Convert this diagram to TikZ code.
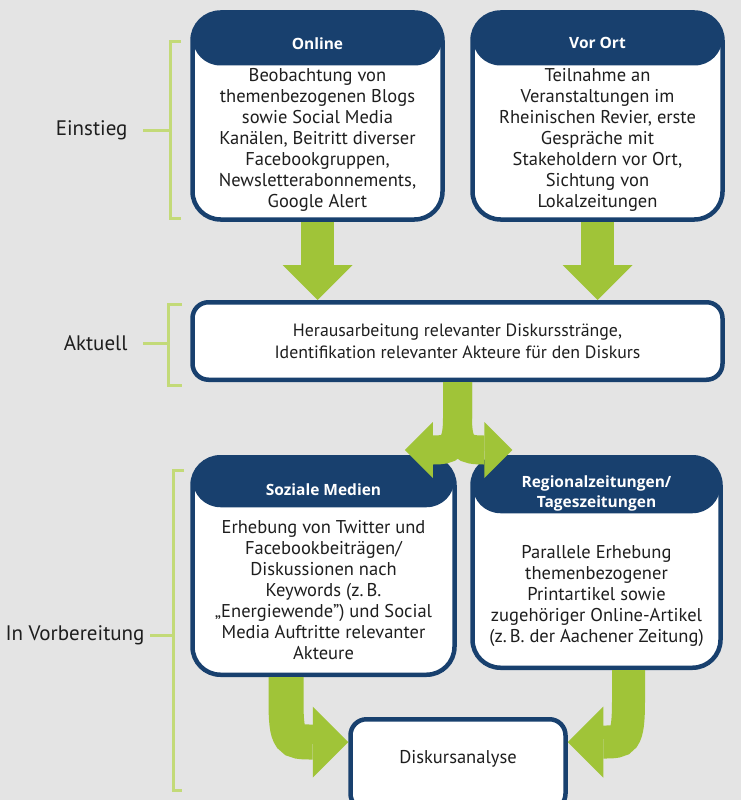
\documentclass[tikz,border=0pt]{standalone}
\usepackage{fontspec}
\setmainfont{PT Sans}
\newfontfamily\headfont{Open Sans}
\usetikzlibrary{arrows.meta}

\definecolor{navy}{RGB}{24,64,110}
\definecolor{leaf}{RGB}{160,196,56}
\definecolor{twig}{RGB}{195,218,120}
\definecolor{paper}{RGB}{228,228,228}
\definecolor{ink}{RGB}{30,30,30}

\begin{document}
\begin{tikzpicture}[x=1pt, y=-1pt,
		box/.style={draw=navy, line width=4.5pt, fill=white, rounded corners=28pt, inner sep=0pt},
		flat/.style={box, rounded corners=16pt},
		headed/.style={box, path picture={\fill[navy] (path picture bounding box.north west) rectangle ([yshift=-#1]path picture bounding box.north east);}},
		headtext/.style={text=white, align=center, font=\headfont\bfseries\fontsize{15.5}{20}\selectfont},
		bodytext/.style={text=ink, align=center, font=\fontsize{18.5}{21}\selectfont},
		stage/.style={text=ink, anchor=east, font=\fontsize{21}{24}\selectfont},
		brace/.style={draw=twig, line width=3pt},
		fat/.style={draw=leaf, line width=#1},
		tip/.style={-{Triangle[width=#1, length=.5*#1, line width=0pt]}}]
		\useasboundingbox[fill=paper] (0,0) rectangle (741,800);
		
		\node[headed=53pt, minimum width=250pt, minimum height=207pt] (online) at (317.5,116) {};
		\node[headed=53pt, minimum width=250pt, minimum height=207pt] (vorort) at (597.5,116) {};
		\node[headtext] (onlinehead) at ([yshift=-33pt]online.north) {Online};
		\node[headtext] (vororthead) at ([yshift=-33pt]vorort.north) {Vor Ort};
		\node[bodytext] (onlinebody) at ([yshift=-130pt]online.north) {Beobachtung von\\themenbezogenen Blogs\\sowie Social Media\\Kanälen, Beitritt diverser\\Facebookgruppen,\\Newsletterabonnements,\\Google Alert};
		\node[bodytext] (vorortbody) at ([yshift=-130pt]vorort.north) {Teilnahme an\\Veranstaltungen im\\Rheinischen Revier, erste\\Gespräche mit\\Stakeholdern vor Ort,\\Sichtung von\\Lokalzeitungen};
		
		\node[flat, minimum width=530pt, minimum height=77.5pt] (aktuell) at (457.5,341) {};
		\node[bodytext, font=\fontsize{17.8}{22}\selectfont] (aktuellbody) at (aktuell) {Herausarbeitung relevanter Diskursstränge,\\Identifikation relevanter Akteure für den Diskurs};
		
		\node[headed=50pt, minimum width=262pt, minimum height=217.5pt] (sozial) at (323.5,566) {};
		\node[headed=56pt, minimum width=248pt, minimum height=210.5pt] (regional) at (596.5,562.5) {};
		\node[headtext] (sozialhead) at ([yshift=-35pt]sozial.north) {Soziale Medien};
		\node[headtext] (regionalhead) at ([yshift=-38pt]regional.north) {Regionalzeitungen/\\Tageszeitungen};
		\node[bodytext] (sozialbody) at ([yshift=-135pt]sozial.north) {Erhebung von Twitter und\\Facebookbeiträgen/\\Diskussionen nach\\Keywords (z.\,B.\\„Energiewende") und Social\\Media Auftritte relevanter\\Akteure};
		\node[bodytext] (regionalbody) at ([yshift=-141pt]regional.north) {Parallele Erhebung\\themenbezogener\\Printartikel sowie\\zugehöriger Online-Artikel\\(z.\,B. der Aachener Zeitung)};
		
		\node[flat, minimum width=215pt, minimum height=90.5pt] (disk) at (458,764.5) {};
		\node[bodytext] (diskbody) at ([yshift=-42pt]disk.north) {Diskursanalyse};
		
		%========================================================================
		% Stages
		\node[stage] (einstieg) at (131,130) {Einstieg};
		\node[stage] (aktuelllabel) at (131,343) {Aktuell};
		\node[stage] (vorbereitung) at (148,635) {In Vorbereitung};
		\draw[brace] (181,42) -- (170,42) -- (170,218) -- (181,218);
		\draw[brace] (182,304) -- (168,304) -- (168,385) -- (182,385);
		\draw[brace] (184,470) -- (173,470) -- (173,790) -- (182,790);
		\draw[brace] ([xshift=12pt]einstieg.east) -- (170,130);
		\draw[brace] ([xshift=12pt]aktuelllabel.east) -- (168,343);
		\draw[brace] ([xshift=2pt]vorbereitung.east) -- (173,635);
		
		%========================================================================
		% Arrows
		\draw[fat=33pt, tip=70pt] (online.south) -- (online.south |- aktuell.north);
		\draw[fat=33pt, tip=70pt] (vorort.south) -- (vorort.south |- aktuell.north);
		\draw[fat=29pt, tip=56pt] (aktuell.south) -- (457.5,418) .. controls (457.5,448) and (450,450) .. ([xshift=-52pt, yshift=5pt]sozial.north east);
		\draw[fat=29pt, tip=56pt] (aktuell.south) -- (457.5,418) .. controls (457.5,448) and (465,450) .. ([xshift=42pt, yshift=5pt]regional.north west);
		\draw[fat=35pt, tip=71pt] ([xshift=-37.5pt]sozial.south) -- (286,700) .. controls (286,742) and (290,742) .. ([yshift=22.5pt]disk.west);
		\draw[fat=33pt, tip=71pt] ([xshift=32pt]regional.south) -- (628.5,700) .. controls (628.5,742) and (624,742) .. ([yshift=22.5pt]disk.east);
	\end{tikzpicture}
\end{document}
